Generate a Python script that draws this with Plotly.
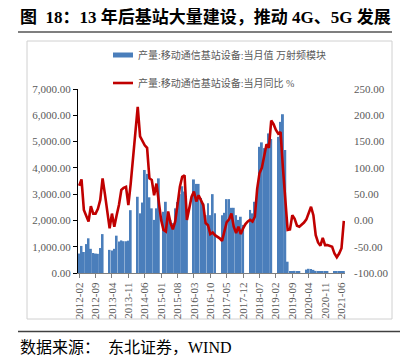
import plotly.graph_objects as go

# ---------------- data ----------------
months = [f"{y}-{m:02d}" for y in range(2012, 2022) for m in range(1, 13)]
months = months[months.index("2012-02"):months.index("2021-07") + 1]

# 当月值 (万射频模块), None = not published
output_2012 = [740, 1030, 800, 1100, 1320, 920, 760, 740, 730, 950, 1480]          # 02-12
output_2013 = [None, None, 880, 860, 920, 1420, 1200, 1240, 1210, 1210, 1230, 2390]
output_2014 = [None, None, 2900, 2270, 2680, 3920, 3770, 2880, 2460, 2020, 2460, 3600]
output_2015 = [None, 2330, 2710, 2290, 2020, 1900, 2460, 2700, 3000, 3300, 3100, 2400]
output_2016 = [None, None, 3560, 3390, 3390, 2850, 2650, 2200, 2650, 2200, 3000, 2270]
output_2017 = [None, None, 2200, 2290, 2810, 2810, 2480, 2480, 2200, 2020, 2140, 1830]
output_2018 = [None, None, 2400, 2270, 2710, 3030, 4800, 4970, 4750, 4870, 5310, 5100]
output_2019 = [None, None, 5180, 5750, 6040, 4680, 430, 75, 75, 80, 80, 75]
output_2020 = [None, None, 130, 160, 150, 120, 80, 60, 50, 45, 40, 40]
output_2021 = [None, None, 50, 55, 55, 50, 45]                                       # 01-07

# 当月同比 (%)
yoy_2012 = [66, 78, 20, 10, -2, 27, 13, 13, 22, 39, 80]
yoy_2013 = [50, 15, -15, 13, -12, 10, 30, 58, 62, 64, 29, 70]
yoy_2014 = [120, 175, 216, 160, 152, 143, 138, 80, 77, 48, 70, 29]
yoy_2015 = [1, -18, -21, 17, -5, -17, -2, 30, 64, 83, 86, 1]
yoy_2016 = [26, 45, 55, 36, 48, 39, 29, -5, -9, -26, -23, -28]
yoy_2017 = [-31, -34, -39, -22, -3, 2, 13, -12, -24, -12, -26, -15]
yoy_2018 = [-7, -2, 1, -2, 7, 60, 90, 100, 125, 145, 138, 190]
yoy_2019 = [183, 172, 165, 168, 100, 40, -18, -17, 10, 3, -10, -12]
yoy_2020 = [-8, -4, 2, 13, 26, 10, -28, -42, -48, -33, -47, -47]
yoy_2021 = [-48, -50, -63, -70, -63, -53, -1]

output_vals = (output_2012 + output_2013 + output_2014 + output_2015 + output_2016 +
               output_2017 + output_2018 + output_2019 + output_2020 + output_2021)
yoy_vals = (yoy_2012 + yoy_2013 + yoy_2014 + yoy_2015 + yoy_2016 +
            yoy_2017 + yoy_2018 + yoy_2019 + yoy_2020 + yoy_2021)

tick_labels = ["2012-02", "2012-09", "2013-04", "2013-11", "2014-06", "2015-01",
               "2015-08", "2016-03", "2016-10", "2017-05", "2017-12", "2018-07",
               "2019-02", "2019-09", "2020-04", "2020-11", "2021-06"]

left_ticks = [0, 1000, 2000, 3000, 4000, 5000, 6000, 7000]
right_ticks = [-100, -50, 0, 50, 100, 150, 200, 250]

name_bar = "产量:移动通信基站设备:当月值 万射频模块"
name_line = "产量:移动通信基站设备:当月同比 %"
title_text = "<b>图  18：13 年后基站大量建设，推动 4G、5G 发展</b>"
source_text = "数据来源：  东北证券，WIND"

# ---------------- layout helpers ----------------
# the page body adds an 8px offset; coordinates below are window pixels
OFF = 8
W, H = 409 - OFF, 357 - OFF
L, R, T, B = 78, 345, 89, 273   # plot area in window pixels


def px(x):
    return (x - L) / (R - L)


def py(y):
    return (B - y) / (B - T)


xi = list(range(len(months)))
tick_pos = [months.index(t) for t in tick_labels]

SERIF = "Liberation Serif, Noto Sans CJK SC, serif"
GRAY = "#595959"

fig = go.Figure()
fig.add_trace(go.Bar(x=xi, y=output_vals, name=name_bar,
                     marker=dict(color="#4a7ebb", line=dict(width=0)),
                     yaxis="y", showlegend=False))
fig.add_trace(go.Scatter(x=xi, y=yoy_vals, name=name_line, mode="lines",
                         line=dict(color="#c00000", width=2.6),
                         yaxis="y2", showlegend=False))

fig.update_layout(
    width=W, height=H,
    margin=dict(l=L - OFF, r=W - (R - OFF), t=T - OFF, b=H - (B - OFF), pad=0),
    paper_bgcolor="white", plot_bgcolor="white",
    bargap=0.18,
    xaxis=dict(range=[-0.5, len(months) - 0.5], tickvals=tick_pos, ticktext=tick_labels,
               tickangle=-90, tickfont=dict(family=SERIF, size=11, color=GRAY),
               showline=True, linecolor="#7f7f7f", linewidth=1.2,
               ticks="outside", ticklen=4, tickcolor="#7f7f7f",
               showgrid=False, zeroline=False),
    yaxis=dict(range=[0, 7000], tickvals=left_ticks,
               ticktext=[f"{v:,.2f}" for v in left_ticks],
               tickfont=dict(family=SERIF, size=11, color=GRAY),
               showline=True, linecolor="black", linewidth=1.2,
               ticks="outside", ticklen=4, tickcolor="black",
               showgrid=False, zeroline=False),
    yaxis2=dict(range=[-100, 250], overlaying="y", side="right", tickvals=right_ticks,
                ticktext=[f"{v:.2f}" for v in right_ticks],
                tickfont=dict(family=SERIF, size=11, color=GRAY),
                showline=False, ticks="", ticklabelstandoff=8,
                showgrid=False, zeroline=False),
)

shapes = [
    dict(type="rect", xref="paper", yref="paper", x0=px(27), x1=px(392), y0=py(319), y1=py(41),
         line=dict(color="#d0d0d0", width=1), fillcolor="rgba(0,0,0,0)", layer="below"),
    dict(type="line", xref="paper", yref="paper", x0=px(18), x1=px(392), y0=py(32), y1=py(32),
         line=dict(color="#7f7f7f", width=2)),
    dict(type="line", xref="paper", yref="paper", x0=px(18), x1=px(400), y0=py(331.5), y1=py(331.5),
         line=dict(color="#404040", width=1.5)),
    dict(type="rect", xref="paper", yref="paper", x0=px(113), x1=px(133), y0=py(57.5), y1=py(52.5),
         line=dict(width=0), fillcolor="#4a7ebb"),
    dict(type="line", xref="paper", yref="paper", x0=px(113), x1=px(133), y0=py(83), y1=py(83),
         line=dict(color="#c00000", width=2.6)),
]
annotations = [
    dict(text=title_text, xref="paper", yref="paper", x=px(18), y=py(17), xanchor="left",
         yanchor="middle", showarrow=False,
         font=dict(family=SERIF, size=17, color="black")),
    dict(text=name_bar, xref="paper", yref="paper", x=px(136), y=py(55), xanchor="left",
         yanchor="middle", showarrow=False,
         font=dict(family=SERIF, size=10, color=GRAY)),
    dict(text=name_line, xref="paper", yref="paper", x=px(136), y=py(83), xanchor="left",
         yanchor="middle", showarrow=False,
         font=dict(family=SERIF, size=10, color=GRAY)),
    dict(text=source_text, xref="paper", yref="paper", x=px(18), y=py(347), xanchor="left",
         yanchor="middle", showarrow=False,
         font=dict(family=SERIF, size=16, color="black")),
]
fig.update_layout(shapes=shapes, annotations=annotations)

fig.write_html("out.html")
